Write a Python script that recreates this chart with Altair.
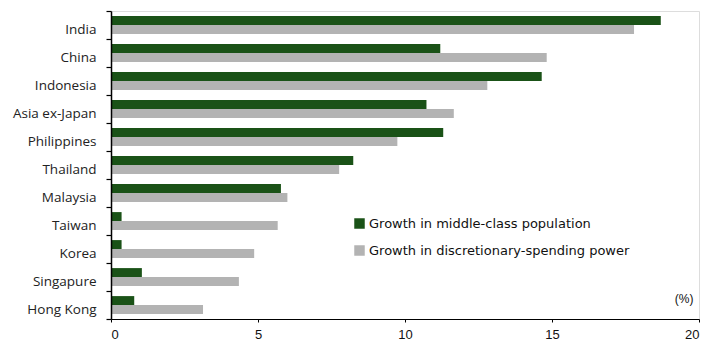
import altair as alt
import pandas as pd

countries = ["India", "China", "Indonesia", "Asia ex-Japan", "Philippines", "Thailand",
             "Malaysia", "Taiwan", "Korea", "Singapure", "Hong Kong"]
series_names = ["Growth in middle-class population", "Growth in discretionary-spending power"]
middle_class = [18.7, 11.2, 14.65, 10.73, 11.3, 8.24, 5.78, 0.36, 0.36, 1.05, 0.79]
spending = [17.79, 14.82, 12.8, 11.66, 9.74, 7.76, 6.0, 5.67, 4.87, 4.35, 3.13]
x_ticks = [0, 5, 10, 15, 20]

rows = []
for c, a, b in zip(countries, middle_class, spending):
    rows.append({"country": c, "series": series_names[0], "value": a})
    rows.append({"country": c, "series": series_names[1], "value": b})
df = pd.DataFrame(rows)

chart = alt.Chart(df).mark_bar(size=8.9).encode(
    y=alt.Y("country:N", sort=countries,
            scale=alt.Scale(paddingInner=0, paddingOuter=0),
            axis=alt.Axis(title=None, tickBand="extent", labelOffset=4,
                          labelFont="Open Sans", labelFontSize=13.5, labelColor="#222222",
                          labelPadding=10, tickSize=5, tickColor="#000000", tickWidth=1.2,
                          domain=True, domainColor="#000000", domainWidth=1.5,
                          ticks=True, labelLimit=0, zindex=1)),
    yOffset=alt.YOffset("series:N", sort=series_names,
                        scale=alt.Scale(paddingInner=0, paddingOuter=0.57)),
    x=alt.X("value:Q", scale=alt.Scale(domain=[0, 20], nice=False),
            axis=alt.Axis(values=x_ticks, title="(%)", titleFont="Liberation Sans",
                          titleFontSize=12, titleFontWeight="normal", titleColor="#111111",
                          titleAnchor="end", titleAlign="right", titleBaseline="alphabetic",
                          titleX=582, titleY=-17,
                          labelFont="Liberation Sans", labelFontSize=13, labelColor="#111111",
                          tickSize=3, labelPadding=6, tickColor="#000000",
                          domainColor="#000000", grid=False, zindex=1)),
    color=alt.Color("series:N", sort=series_names,
                    scale=alt.Scale(domain=series_names, range=["#1a5217", "#b3b3b3"]),
                    legend=alt.Legend(title=None, orient="none", legendX=242, legendY=206,
                                      symbolType="square", symbolSize=110,
                                      symbolStrokeWidth=0, labelFont="DejaVu Sans",
                                      labelFontSize=13, labelColor="#111111", labelLimit=0,
                                      rowPadding=13, labelOffset=3)),
).properties(
    width=588, height=308,
    padding={"left": 111, "top": 11, "right": 15, "bottom": 23},
    autosize=alt.AutoSizeParams(type="none"),
).configure_view(stroke=None).configure(background="white")

chart.save("out.html", embed_options={"renderer": "svg", "actions": False})
